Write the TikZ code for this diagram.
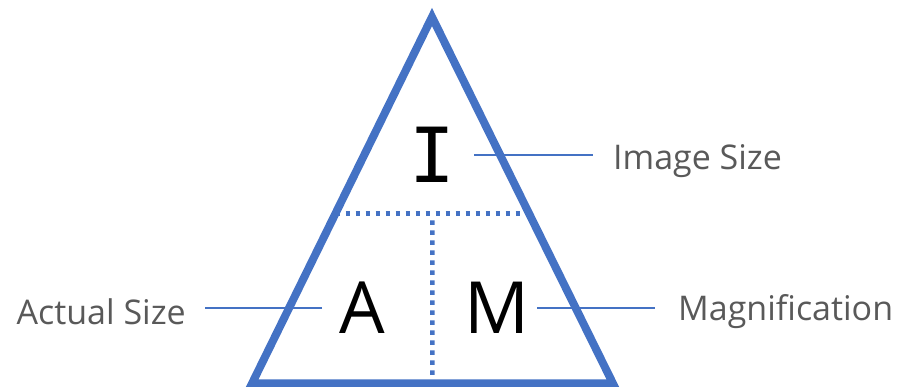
\documentclass[tikz,border=0pt]{standalone}
\usepackage{fontspec}
\setmainfont{Open Sans}
\newfontfamily\letterfont{Open Sans}
\newfontfamily\letterfontI{DejaVu Sans Mono}
\usetikzlibrary{calc}

\definecolor{triblue}{HTML}{4472C4}
\definecolor{labelgray}{HTML}{595959}

\tikzset{
  tri/.style={draw=triblue, line width=8, line join=miter},
  split/.style={draw=triblue, line width=4.5, dash pattern=on 4.5 off 5.5},
  conn/.style={draw=triblue, line width=1.5},
  letter/.style={inner sep=0pt, font=\letterfont\fontsize{72}{72}\selectfont},
  label/.style={inner sep=0pt, text=labelgray, font=\fontsize{34}{34}\selectfont}
}

\begin{document}
\begin{tikzpicture}[x=1pt, y=-1pt]

  \useasboundingbox (0, 0) rectangle (898, 387);

  \coordinate (apex) at (432, 17);
  \coordinate (bl) at (252, 383.5);
  \coordinate (br) at (613, 383.5);

  % dotted dividers
  \coordinate (sl) at ($(apex)!0.536!(bl)$);
  \coordinate (sr) at ($(apex)!0.536!(br)$);
  \coordinate (smid) at ($(sl)!0.5!(sr)$);
  \coordinate (bmid) at ($(bl)!0.5!(br)$);
  \draw[split] (sl) -- (sr);
  \draw[split] ([yshift=-7]smid) -- (bmid);

  \draw[tri] (apex) -- (bl) -- (br) -- cycle;

  \node[letter, font=\letterfontI\fontsize{76}{76}\selectfont] (lI) at (432, 155) {I};
  \node[letter] (lA) at (362, 308) {A};
  \node[letter] (lM) at (497, 308) {M};

  \node[label, anchor=west] (tI) at (613, 161) {Image Size};
  \node[label, anchor=east] (tA) at (186, 312) {Actual Size};
  \node[label, anchor=west] (tM) at (678, 312) {Magnification};

  \draw[conn] ([xshift=42]lI.center) -- ([xshift=-20]tI.west |- lI.center);
  \draw[conn] ([xshift=-40]lA.center) -- ([xshift=19]tA.east |- lA.center);
  \draw[conn] ([xshift=40]lM.center) -- ([xshift=-23]tM.west |- lM.center);

\end{tikzpicture}
\end{document}
